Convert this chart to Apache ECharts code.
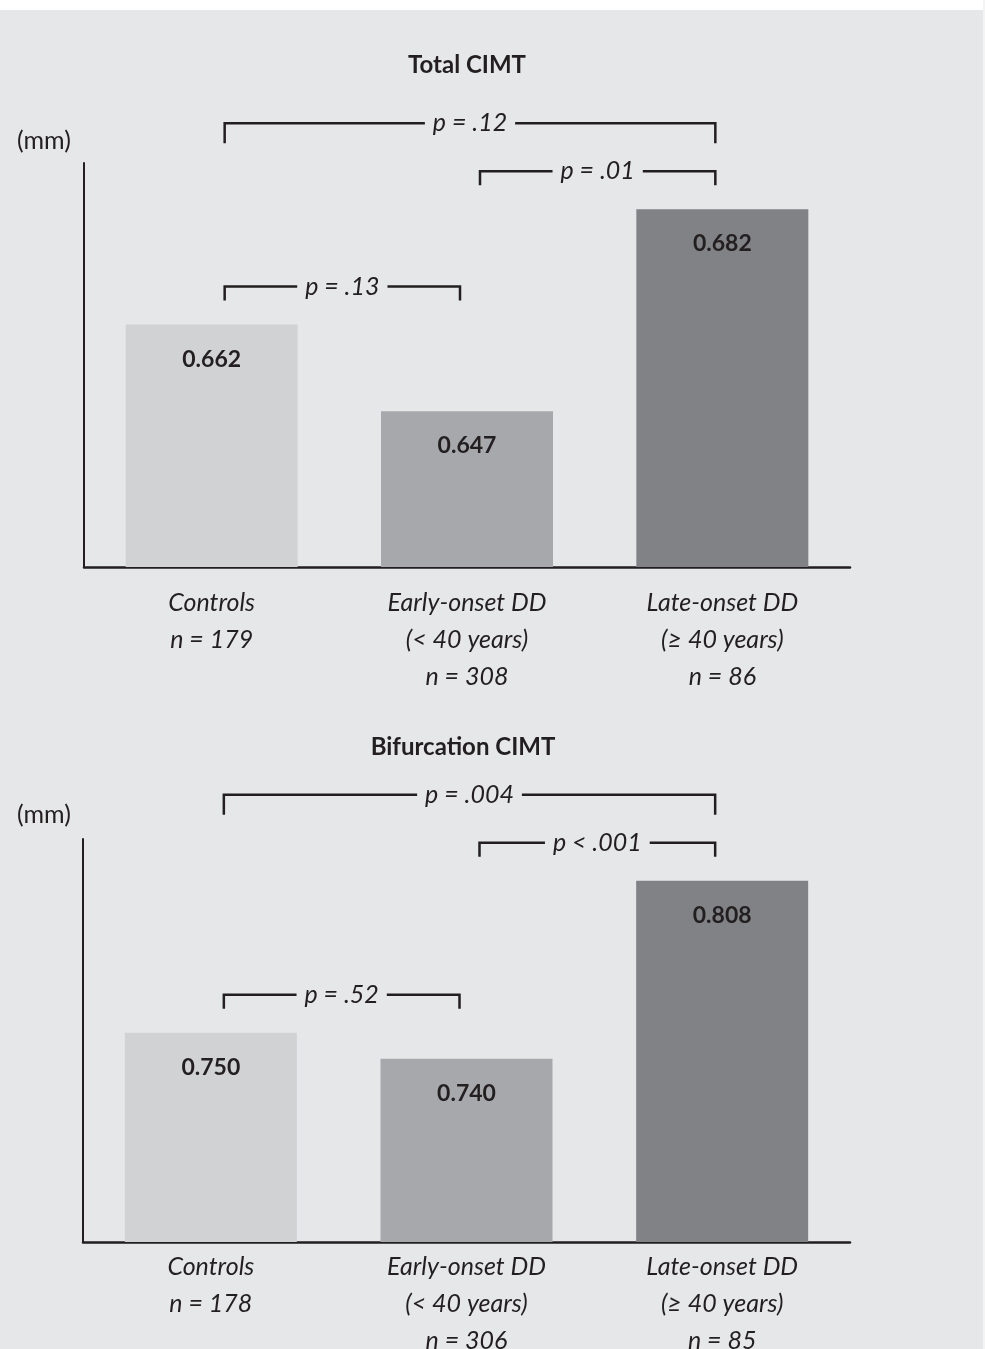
<!DOCTYPE html>
<html>
<head>
<meta charset="utf-8">
<script src="https://cdn.jsdelivr.net/npm/echarts@6/dist/echarts.min.js"></script>
<style>
  html, body { margin: 0; padding: 0; background: #ffffff; }
  #chart { width: 985px; height: 1349px; }
</style>
</head>
<body>
<div id="chart"></div>
<script>
// data
var totalLabels = ['Controls\nn = 179', 'Early-onset DD\n(< 40 years)\nn = 308', 'Late-onset DD\n(≥ 40 years)\nn = 86'];
var bifLabels = ['Controls\nn = 178', 'Early-onset DD\n(< 40 years)\nn = 306', 'Late-onset DD\n(≥ 40 years)\nn = 85'];
var totalCimt = [0.662, 0.647, 0.682];
var bifCimt = [0.750, 0.740, 0.808];
// comparisons: [from group, to group]
var pairs = [[0, 1], [1, 2], [0, 2]];
var totalP = ['p = .13', 'p = .01', 'p = .12'];
var bifP = ['p = .52', 'p < .001', 'p = .004'];

var BG = '#e6e7e9';
var INK = '#231f20';
var FONT = 'Lato, "Open Sans", sans-serif';
var barColors = ['#d1d2d4', '#a7a8ab', '#818285'];

var chart = echarts.init(document.getElementById('chart'));

function barSeries(values, idx) {
  return {
    type: 'bar',
    xAxisIndex: idx,
    yAxisIndex: idx,
    barWidth: 172,
    data: values.map(function (v, i) {
      return { value: v, itemStyle: { color: barColors[i] } };
    }),
    label: {
      show: true,
      position: 'insideTop',
      distance: 23,
      formatter: function (p) { return p.value.toFixed(3); },
      color: INK,
      fontFamily: FONT,
      fontWeight: 'bold',
      fontSize: 23
    },
    silent: true
  };
}

// brackets with p-values, placed above the tallest bar they span
function bracketSeries(values, texts, idx) {
  return {
    type: 'custom',
    xAxisIndex: idx,
    yAxisIndex: idx,
    silent: true,
    data: pairs.map(function (p) { return [p[0], p[1]]; }),
    renderItem: function (params, api) {
      var a = api.value(0), b = api.value(1);
      var top = Math.max.apply(null, values.slice(a, b + 1));
      var span = b - a;
      var yTop = api.coord([b, top])[1] - 38 - 48 * (span - 1);
      var x1 = api.coord([a, top])[0] + 13;
      var x2 = api.coord([b, top])[0] - 7;
      var tick = span > 1 ? 20 : 14;
      return {
        type: 'group',
        children: [{
          type: 'polyline',
          shape: { points: [[x1, yTop + tick], [x1, yTop], [x2, yTop], [x2, yTop + tick]] },
          style: { stroke: INK, lineWidth: 2.5, fill: null }
        }, {
          type: 'text',
          style: {
            text: texts[params.dataIndex],
            x: (x1 + x2) / 2,
            y: yTop,
            align: 'center',
            verticalAlign: 'middle',
            fill: INK,
            font: 'italic 25px ' + FONT,
            backgroundColor: BG,
            padding: [0, 8]
          }
        }]
      };
    }
  };
}

function xAxisFor(labels, idx, margin) {
  return {
    type: 'category',
    gridIndex: idx,
    data: labels,
    axisLine: { lineStyle: { color: INK, width: 2.5 } },
    axisTick: { show: false },
    axisLabel: {
      interval: 0,
      margin: margin,
      color: INK,
      fontFamily: FONT,
      fontStyle: 'italic',
      fontSize: 25,
      lineHeight: 37
    }
  };
}

function yAxisFor(idx, min, max) {
  return {
    type: 'value',
    gridIndex: idx,
    min: min,
    max: max,
    axisLine: { show: true, lineStyle: { color: INK, width: 2 } },
    axisTick: { show: false },
    axisLabel: { show: false },
    splitLine: { show: false }
  };
}

var option = {
  backgroundColor: BG,
  animation: false,
  grid: [
    { left: 84, top: 163, width: 766, height: 404, outerBoundsMode: 'none' },
    { left: 83, top: 839, width: 767, height: 403, outerBoundsMode: 'none' }
  ],
  xAxis: [xAxisFor(totalLabels, 0, 17), xAxisFor(bifLabels, 1, 6)],
  yAxis: [yAxisFor(0, 0.62, 0.69), yAxisFor(1, 0.67, 0.824)],
  graphic: [
    { type: 'rect', shape: { x: 0, y: 0, width: 985, height: 10 }, style: { fill: '#ffffff' } },
    { type: 'rect', shape: { x: 983, y: 0, width: 2, height: 1349 }, style: { fill: '#f4f4f5' } },
    { type: 'text', style: { text: 'Total CIMT', x: 467, y: 65, align: 'center', verticalAlign: 'middle', fill: INK, font: 'bold 24px ' + FONT } },
    { type: 'text', style: { text: 'Bifurcation CIMT', x: 463, y: 747, align: 'center', verticalAlign: 'middle', fill: INK, font: 'bold 24px ' + FONT } },
    { type: 'text', style: { text: '(mm)', x: 17, y: 141, verticalAlign: 'middle', fill: INK, font: '25px ' + FONT } },
    { type: 'text', style: { text: '(mm)', x: 17, y: 815, verticalAlign: 'middle', fill: INK, font: '25px ' + FONT } }
  ],
  series: [
    barSeries(totalCimt, 0),
    barSeries(bifCimt, 1),
    bracketSeries(totalCimt, totalP, 0),
    bracketSeries(bifCimt, bifP, 1)
  ]
};

chart.setOption(option);
</script>
</body>
</html>
